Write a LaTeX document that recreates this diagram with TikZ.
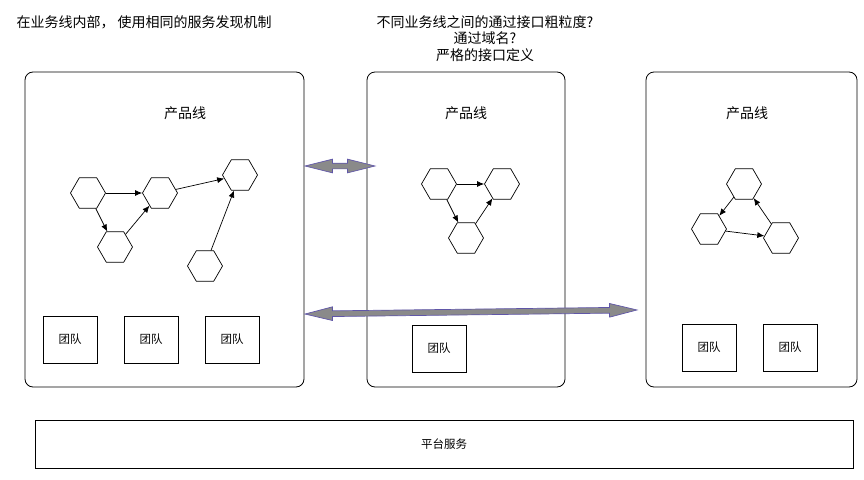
\documentclass[tikz,border=0pt]{standalone}
\usepackage{fontspec}
\setmainfont{Noto Sans CJK SC}
\usetikzlibrary{shapes.geometric,shapes.arrows,arrows.meta}

\definecolor{linkedge}{RGB}{96,86,168}
\definecolor{linkfill}{RGB}{138,138,138}

\tikzset{
  linebox/.style={draw, line width=0.8pt, rounded corners=8pt},
  teambox/.style={draw, line width=0.8pt, minimum width=54pt, minimum height=47pt,
    font=\fontsize{11.5}{14}\selectfont},
  hexa/.style={draw, line width=0.7pt, regular polygon, regular polygon sides=6,
    minimum size=35pt, inner sep=0pt},
  call/.style={line width=0.7pt, -{Latex[length=7pt,width=6pt]}},
  biglink/.style={double arrow, draw=linkedge, fill=linkfill, line width=0.7pt,
    inner sep=2.5pt, double arrow head extend=4pt, double arrow tip angle=28},
  title/.style={font=\fontsize{14}{16.5}\selectfont}
}

\begin{document}
\begin{tikzpicture}[x=1pt,y=-1pt]
\useasboundingbox (0,0) rectangle (864,479);

% three product lines
\node[linebox, minimum width=279pt, minimum height=315pt] (lineA) at (164.5,229.5) {};
\node[linebox, minimum width=198pt, minimum height=315pt] (lineB) at (466,229.5) {};
\node[linebox, minimum width=211pt, minimum height=315pt] (lineC) at (751.5,229.5) {};
\foreach \x/\n in {185/A,466/B,747/C}
  \node[title] (name\n) at (\x,113) {产品线};

% notes on top
\node[title, anchor=west] (intra) at (13,22) {在业务线内部， 使用相同的服务发现机制};
\node[title, align=center] (inter) at (485,38.5) {不同业务线之间的通过接口粗粒度?\\通过域名?\\严格的接口定义};

% services in line A
\node[hexa] (a1) at (88,193) {};
\node[hexa] (a2) at (160,193) {};
\node[hexa] (a3) at (240,175) {};
\node[hexa] (a4) at (115,247) {};
\node[hexa] (a5) at (205,266) {};
\draw[call] (a1) -- (a2);
\draw[call] (a1) -- (a4);
\draw[call] (a4) -- (a2);
\draw[call] (a2) -- (a3);
\draw[call] (a5) -- (a3);

% services in line B
\node[hexa] (b1) at (439,184) {};
\node[hexa] (b2) at (502,184) {};
\node[hexa] (b3) at (466,238) {};
\draw[call] (b1) -- (b2);
\draw[call] (b1) -- (b3);
\draw[call] (b3) -- (b2);

% services in line C
\node[hexa] (c1) at (744,184) {};
\node[hexa] (c2) at (709,229) {};
\node[hexa] (c3) at (781,238) {};
\draw[call] (c1) -- (c2);
\draw[call] (c2) -- (c3);
\draw[call] (c3) -- (c1);

% teams
\foreach \x [count=\i] in {70,151,232}
  \node[teambox] (teamA\i) at (\x,339.5) {团队};
\node[teambox] (teamB1) at (439,348.5) {团队};
\foreach \x [count=\i] in {709,790}
  \node[teambox] (teamC\i) at (\x,347.5) {团队};

% links between lines
\node[biglink, minimum height=70pt] (linkAB) at (340,166) {};
\node[biglink, minimum height=332pt, rotate=0.7] (linkAC) at (471,312) {};

% platform
\node[draw, line width=0.8pt, minimum width=818pt, minimum height=48pt,
  font=\fontsize{11.5}{14}\selectfont] (platform) at (444,444) {平台服务};
\end{tikzpicture}
\end{document}
